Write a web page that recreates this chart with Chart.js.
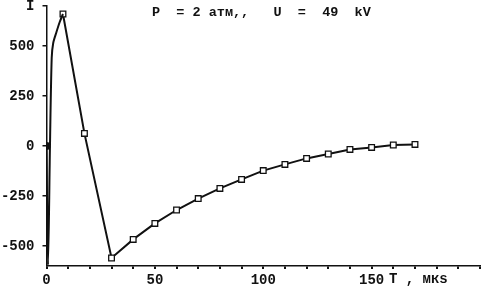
<!DOCTYPE html>
<html>
<head>
<meta charset="utf-8">
<script src="https://cdn.jsdelivr.net/npm/chart.js@4/dist/chart.umd.min.js"></script>
<style>
  html, body { margin: 0; padding: 0; background: #fff; }
  #wrap { width: 486px; height: 289px; }
</style>
</head>
<body>
<div id="wrap"><canvas id="c" width="486" height="289"></canvas></div>
<script>
// ---- data ----
const titleText = "P  = 2 атм,,   U  =  49  kV";
const xAxisTitle = "T , мкs";
// early rise (no markers), T in mks, I
const riseT = [0, 0.7, 1.6, 2.4, 3.1, 4.6, 6.1, 7.6];
const riseI = [0, -595, 0, 440, 515, 570, 620, 660];
// measured points (square markers)
const measT = [7.6, 17.5, 30, 40, 50, 60, 70, 80, 90, 100, 110, 120, 130, 140, 150, 160, 170];
const measI = [660, 63, -560, -467, -387, -320, -263, -212, -167, -123, -92, -62, -40, -17, -7, 5, 8];
// axes
const xMin = 0, xMax = 200, xMinorStep = 10;
const xMajorTicks = [0, 50, 100, 150];
const yMin = -600, yMax = 700;
const yTickValues = [-500, -250, 0, 250, 500, 700];
const yTickLabels = ["-500", "-250", "0", "250", "500", "I"];

const FONT = '"Liberation Mono", "DejaVu Sans Mono", monospace';

const textPlugin = {
  id: 'texts',
  afterDraw(chart) {
    const ctx = chart.ctx;
    const x = chart.scales.x;
    ctx.save();
    ctx.fillStyle = '#111';
    ctx.font = 'bold 13.5px ' + FONT;
    ctx.textBaseline = 'middle';
    ctx.textAlign = 'left';
    ctx.fillText(titleText, 152, 13);
    ctx.font = 'bold 14px ' + FONT;
    ctx.fillText(xAxisTitle, x.getPixelForValue(158), 279);
    ctx.restore();
  }
};

const xTicks = [];
for (let v = xMin; v <= xMax; v += xMinorStep) xTicks.push(v);

new Chart(document.getElementById('c'), {
  type: 'scatter',
  data: {
    datasets: [
      {
        data: riseT.map((t, i) => ({ x: t, y: riseI[i] })),
        showLine: true,
        borderColor: '#111',
        borderWidth: 2,
        tension: 0.3,
        pointRadius: ctx => ctx.dataIndex === 0 ? 3 : 0,
        pointBackgroundColor: '#111',
        pointBorderColor: '#111'
      },
      {
        data: measT.map((t, i) => ({ x: t, y: measI[i] })),
        showLine: true,
        borderColor: '#111',
        borderWidth: 2,
        tension: 0,
        pointStyle: 'rect',
        pointRadius: 4,
        pointBorderWidth: 1.3,
        pointBackgroundColor: '#fff',
        pointBorderColor: '#111'
      }
    ]
  },
  options: {
    responsive: false,
    animation: false,
    layout: { padding: { top: 6, right: 0, left: 0, bottom: 0 } },
    plugins: { legend: { display: false }, tooltip: { enabled: false } },
    scales: {
      x: {
        type: 'linear',
        min: xMin, max: xMax,
        afterBuildTicks: s => { s.ticks = xTicks.map(v => ({ value: v })); },
        afterFit: s => { s.height = 23; s.paddingLeft = 0; s.paddingRight = 0; },
        border: { color: '#111', width: 1.5 },
        grid: { drawOnChartArea: false, drawTicks: true, tickLength: 3, color: '#111', lineWidth: 2 },
        ticks: {
          autoSkip: false, maxRotation: 0, padding: 3,
          color: '#111',
          font: { family: FONT, size: 14, weight: 'bold' },
          callback: v => xMajorTicks.includes(v) ? String(v) : ''
        }
      },
      y: {
        type: 'linear',
        min: yMin, max: yMax,
        afterBuildTicks: s => { s.ticks = yTickValues.map(v => ({ value: v })); },
        afterFit: s => { s.width = 46.5; s.paddingTop = 0; s.paddingBottom = 0; },
        border: { color: '#111', width: 1.5 },
        grid: { drawOnChartArea: false, drawTicks: true, tickLength: 4, color: '#111', lineWidth: 1.5 },
        ticks: {
          autoSkip: false, padding: 8,
          color: '#111',
          font: { family: FONT, size: 14, weight: 'bold' },
          callback: (v) => { const i = yTickValues.indexOf(v); return i >= 0 ? yTickLabels[i] : ''; }
        }
      }
    }
  },
  plugins: [textPlugin]
});
</script>
</body>
</html>
